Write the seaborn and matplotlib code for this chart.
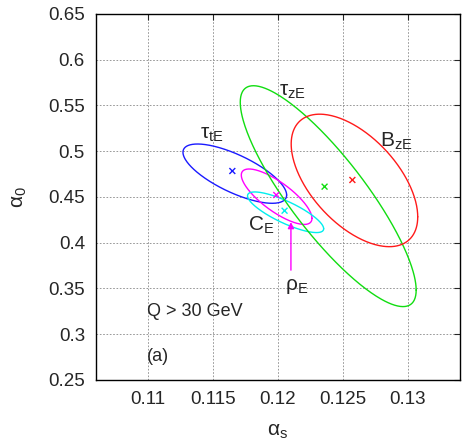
import numpy as np
import pandas as pd
import matplotlib
matplotlib.use("Agg")
import matplotlib.pyplot as plt
import seaborn as sns

# fit results: centre of each contour, widths and correlation
names = ["tau_tE", "rho_E", "C_E", "tau_zE", "B_zE"]
colors = ["#1a1aff", "#ff00ff", "#00eeee", "#11dd11", "#ff1a1a"]
cx = [0.11668, 0.1199, 0.12059, 0.12387, 0.12589]
cy = [0.4755, 0.4503, 0.4333, 0.4509, 0.4681]
sx = [0.00399, 0.00272, 0.00293, 0.00677, 0.00487]
sy = [0.0324, 0.0303, 0.0222, 0.1207, 0.0724]
rho = [-0.72, -0.78, -0.81, -0.85, -0.55]
# best-fit points (crosses)
mark_x = [0.11649, 0.11987, 0.12051, 0.12359, 0.12573]
mark_y = [0.4784, 0.4522, 0.4350, 0.4613, 0.4686]

labels = [r"$\mathrm{\tau_{tE}}$", r"$\mathrm{\rho_{E}}$", r"$\mathrm{C_E}$",
          r"$\mathrm{\tau_{zE}}$", r"$\mathrm{B_{zE}}$"]
label_x = [0.1149, 0.1214, 0.1187, 0.1211, 0.1291]
label_y = [0.518, 0.352, 0.4194, 0.565, 0.5104]

xticks = [0.11, 0.115, 0.12, 0.125, 0.13]
yticks = [0.25, 0.3, 0.35, 0.4, 0.45, 0.5, 0.55, 0.6, 0.65]

sns.set_style("white")
plt.rcParams["font.family"] = ["Liberation Sans", "DejaVu Sans"]
plt.rcParams["mathtext.fontset"] = "custom"
plt.rcParams["mathtext.rm"] = "Liberation Sans"
plt.rcParams["mathtext.it"] = "Liberation Sans:italic"

fig = plt.figure(figsize=(4.64, 4.40), dpi=100)
ax = fig.add_axes([0.207, 0.1364, 0.784, 0.8318])

t = np.linspace(0, 2 * np.pi, 361)
rows = []
for i, n in enumerate(names):
    ex = cx[i] + sx[i] * np.cos(t)
    ey = cy[i] + sy[i] * (rho[i] * np.cos(t) + np.sqrt(1 - rho[i] ** 2) * np.sin(t))
    rows.append(pd.DataFrame({"x": ex, "y": ey, "name": n}))
ell = pd.concat(rows, ignore_index=True)

pal = dict(zip(names, colors))
sns.lineplot(data=ell, x="x", y="y", hue="name", palette=pal,
             sort=False, estimator=None, units="name", lw=1.0, legend=False, ax=ax)

marks = pd.DataFrame({"x": mark_x, "y": mark_y, "name": names})
sns.scatterplot(data=marks, x="x", y="y", hue="name", palette=pal,
                marker="x", s=18, linewidth=1.0, legend=False, ax=ax, zorder=5)

for i in range(len(names)):
    ax.text(label_x[i], label_y[i], labels[i], fontsize=15, ha="center", va="center")

# arrow pointing at rho_E
ax.annotate("", xy=(0.1210, 0.4256), xytext=(0.1210, 0.367),
            arrowprops=dict(arrowstyle="-|>", color="#ff00ff", lw=1.0, mutation_scale=9))

ax.text(0.10995, 0.3247, "Q > 30 GeV", fontsize=13, ha="left", va="center")
ax.text(0.10995, 0.2755, "(a)", fontsize=13, ha="left", va="center")

ax.set_xlim(0.106, 0.134)
ax.set_ylim(0.25, 0.65)
ax.set_xticks(xticks)
ax.set_xticklabels([f"{v:g}" for v in xticks])
ax.set_yticks(yticks)
ax.set_yticklabels([f"{v:g}" for v in yticks])
ax.grid(True, color="#888888", ls=(0, (2, 2)), lw=0.6)
ax.tick_params(direction="in", length=4, top=True, right=True, labelsize=13.5, pad=8)
for s in ax.spines.values():
    s.set_color("black")
    s.set_linewidth(1.0)
ax.set_xlabel(r"$\mathrm{\alpha_s}$", fontsize=15, labelpad=10)
ax.set_ylabel(r"$\mathrm{\alpha_0}$", fontsize=15, labelpad=14)

fig.savefig("out.png", dpi=100)
